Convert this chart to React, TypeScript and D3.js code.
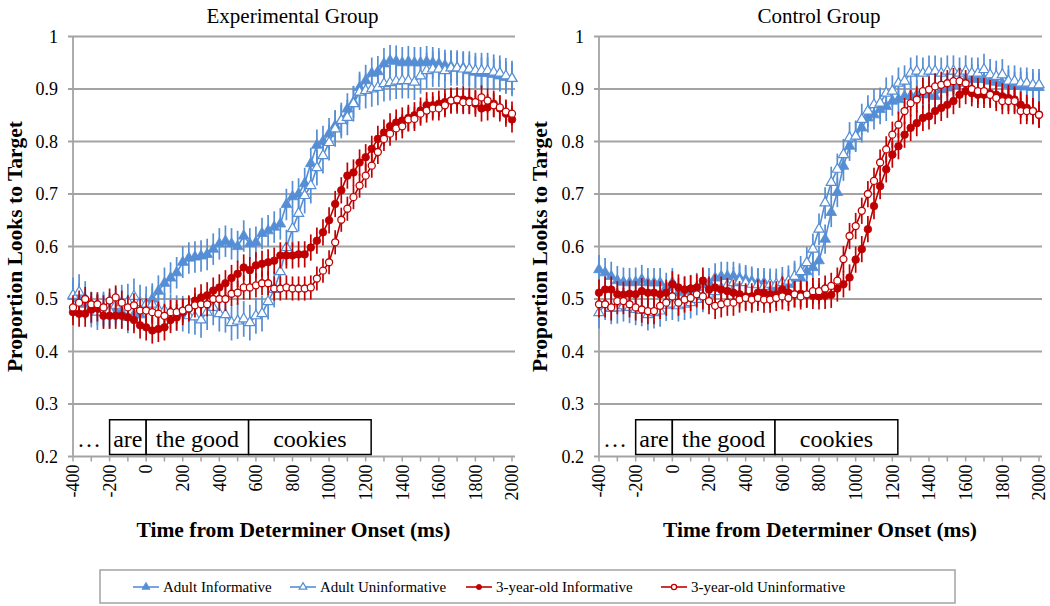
import React from 'react';
import * as d3 from 'd3';

// Sampling times (ms) of the eye-tracking bins
const TIMES: number[] = d3.range(73).map((i) => -400 + (i * 100) / 3);
const X_TICK_LABELS = [-400, -200, 0, 200, 400, 600, 800, 1000, 1200, 1400, 1600, 1800, 2000];
const X_MINOR_TICKS = d3.range(-400, 2001, 100);
const Y_TICKS = [0.2, 0.3, 0.4, 0.5, 0.6, 0.7, 0.8, 0.9, 1];

const SERIES_NAMES = ['Adult Informative', 'Adult Uninformative', '3-year-old Informative', '3-year-old Uninformative'];

// Experimental group
const EXP_ADULT_INF = [
  .505, .50, .49, .483, .48, .48, .478, .478, .475, .465,
  .47, .47, .48, .50, .515, .53, .54, .55, .57, .578,
  .58, .582, .585, .595, .605, .61, .605, .60, .62, .605,
  .608, .625, .63, .637, .643, .68, .695, .70, .72, .758,
  .793, .80, .815, .83, .84, .862, .875, .903, .916, .93,
  .933, .948, .954, .953, .95, .952, .95, .95, .952, .95,
  .948, .945, .943, .94, .94, .935, .932, .93, .93, .928,
  .925, .922, .92];
const EXP_ADULT_UNINF = [
  .507, .513, .50, .48, .475, .48, .478, .488, .493, .495,
  .505, .493, .49, .49, .48, .478, .475, .473, .472, .468,
  .466, .46, .475, .484, .472, .47, .455, .458, .462, .455,
  .468, .472, .495, .518, .552, .598, .634, .663, .697, .716,
  .75, .773, .798, .824, .84, .846, .872, .894, .897, .90,
  .903, .91, .912, .915, .916, .916, .913, .925, .935, .938,
  .938, .935, .94, .94, .938, .938, .935, .935, .935, .932,
  .93, .925, .92];
const EXP_CHILD_INF = [
  .475, .472, .472, .48, .482, .468, .468, .468, .468, .465,
  .46, .45, .446, .44, .443, .446, .46, .465, .475, .482,
  .497, .503, .507, .516, .522, .53, .54, .548, .56, .555,
  .564, .567, .57, .573, .583, .583, .583, .585, .585, .598,
  .611, .627, .65, .681, .707, .735, .741, .76, .77, .786,
  .805, .817, .829, .836, .84, .845, .85, .859, .869, .869,
  .872, .875, .878, .878, .88, .878, .872, .863, .865, .872,
  .863, .853, .842];
const EXP_CHILD_UNINF = [
  .484, .493, .50, .49, .49, .484, .497, .503, .493, .484,
  .488, .478, .478, .475, .472, .468, .475, .475, .478, .482,
  .488, .49, .49, .50, .50, .50, .51, .512, .522, .522,
  .526, .53, .53, .52, .52, .522, .52, .52, .52, .522,
  .539, .554, .57, .608, .651, .672, .694, .716, .735, .754,
  .78, .805, .815, .825, .829, .842, .843, .853, .859, .863,
  .863, .869, .878, .88, .875, .875, .875, .884, .878, .869,
  .865, .857, .853];

// Control group
const CTRL_ADULT_INF = [
  .556, .55, .543, .535, .532, .531, .532, .537, .531, .531,
  .531, .522, .531, .512, .515, .518, .522, .527, .531, .54,
  .543, .543, .543, .54, .537, .534, .531, .531, .524, .522,
  .522, .528, .54, .54, .552, .56, .573, .614, .665, .703,
  .753, .791, .81, .826, .845, .851, .861, .867, .877, .88,
  .886, .887, .889, .89, .889, .886, .899, .902, .906, .911,
  .918, .919, .919, .918, .915, .913, .911, .908, .905, .905,
  .904, .903, .903];
const CTRL_ADULT_UNINF = [
  .474, .49, .482, .483, .487, .484, .48, .478, .47, .474,
  .477, .488, .49, .487, .49, .493, .499, .505, .509, .514,
  .52, .526, .531, .534, .531, .528, .527, .524, .528, .528,
  .531, .534, .543, .552, .569, .595, .633, .683, .722, .747,
  .775, .807, .81, .842, .858, .87, .873, .892, .896, .911,
  .915, .93, .934, .93, .934, .934, .93, .934, .934, .93,
  .934, .93, .93, .937, .927, .924, .927, .915, .915, .911,
  .911, .908, .908];
const CTRL_CHILD_INF = [
  .512, .518, .518, .509, .508, .51, .509, .515, .512, .512,
  .509, .512, .528, .522, .518, .52, .522, .535, .518, .522,
  .518, .515, .512, .509, .505, .505, .512, .512, .509, .509,
  .518, .512, .509, .51, .508, .506, .505, .506, .508, .52,
  .528, .541, .575, .595, .633, .677, .715, .747, .775, .791,
  .813, .826, .835, .845, .848, .858, .864, .87, .877, .889,
  .896, .892, .889, .889, .892, .889, .886, .883, .88, .87,
  .864, .858, .851];
const CTRL_CHILD_UNINF = [
  .49, .49, .484, .496, .496, .49, .484, .48, .477, .477,
  .487, .493, .505, .493, .499, .502, .509, .505, .496, .487,
  .49, .493, .493, .499, .502, .499, .502, .499, .499, .502,
  .505, .502, .509, .505, .509, .515, .515, .52, .525, .535,
  .576, .62, .639, .668, .70, .725, .76, .785, .813, .832,
  .858, .873, .88, .896, .899, .905, .908, .911, .915, .915,
  .911, .90, .896, .896, .889, .883, .877, .877, .877, .858,
  .858, .858, .851];

// Standard-error half widths per series (Adult Inf, Adult Uninf, 3yo Inf, 3yo Uninf)
const EXP_ERR = [0.03, 0.034, 0.025, 0.023];
const CTRL_ERR = [0.028, 0.03, 0.025, 0.025];

// Sentence segments shown in the box
const WORDS = ['are', 'the good', 'cookies'];
const WORD_BOUNDS = [-200, 0, 560, 1230];
const WORD_BOX_TOP = 0.27;

const BLUE = '#558ED5';
const RED = '#C00000';
const GRID = '#A3A3A3';
const SERIF = 'Liberation Serif';

const STYLES = [
  { color: BLUE, shape: 'tri', filled: true },
  { color: BLUE, shape: 'tri', filled: false },
  { color: RED, shape: 'circle', filled: true },
  { color: RED, shape: 'circle', filled: false },
];

const PANELS = [
  { title: 'Experimental Group', x0: 73, x1: 512, series: [EXP_ADULT_INF, EXP_ADULT_UNINF, EXP_CHILD_INF, EXP_CHILD_UNINF], err: EXP_ERR, yTitleX: 14 },
  { title: 'Control Group', x0: 599, x1: 1039, series: [CTRL_ADULT_INF, CTRL_ADULT_UNINF, CTRL_CHILD_INF, CTRL_CHILD_UNINF], err: CTRL_ERR, yTitleX: 539 },
];

const Y_TOP = 36.5;
const Y_BOTTOM = 456.5;

function Marker({ x, y, style, small }: { x: number; y: number; style: any; small?: boolean }) {
  const fill = style.filled ? style.color : '#fff';
  if (style.shape === 'tri') {
    const size = small ? 28 : 50;
    const path = d3.symbol(d3.symbolTriangle, style.filled ? size : size * 0.9)();
    return <path d={path || ''} transform={`translate(${x},${y})`} fill={fill} stroke={style.color} strokeWidth={style.filled ? 0.8 : 1.2} />;
  }
  const r = small ? 2.6 : style.filled ? 3.8 : 3.5;
  return <circle cx={x} cy={y} r={r} fill={fill} stroke={style.color} strokeWidth={style.filled ? 0.8 : 1.3} />;
}

function Panel({ p }: { p: any }) {
  const x = d3.scaleLinear().domain([-400, 2000]).range([p.x0, p.x1]);
  const y = d3.scaleLinear().domain([0.2, 1]).range([Y_BOTTOM, Y_TOP]);
  const line = d3.line<number>().x((_, i) => x(TIMES[i])).y((v) => y(v));
  const cx = (p.x0 + p.x1) / 2;
  const font = { fontFamily: SERIF };
  return (
    <g style={font}>
      <text x={cx} y={23} textAnchor="middle" fontSize={21}>{p.title}</text>
      {Y_TICKS.filter((v) => v > 0.2).map((v) => (
        <line key={v} x1={p.x0 - 5} x2={p.x1 + 3} y1={y(v)} y2={y(v)} stroke={GRID} strokeWidth={1.8} />
      ))}
      <line x1={p.x0} x2={p.x0} y1={Y_TOP} y2={Y_BOTTOM} stroke={GRID} strokeWidth={1.8} />
      <line x1={p.x0 - 5} x2={p.x1 + 3} y1={Y_BOTTOM} y2={Y_BOTTOM} stroke={GRID} strokeWidth={1.8} />
      {X_MINOR_TICKS.map((t) => (
        <line key={t} x1={x(t)} x2={x(t)} y1={Y_BOTTOM} y2={Y_BOTTOM + 5} stroke={GRID} strokeWidth={1.5} />
      ))}
      {Y_TICKS.map((v) => (
        <text key={v} x={p.x0 - 15} y={y(v)} dy="0.35em" textAnchor="end" fontSize={18}>{v === 1 ? '1' : v.toFixed(1)}</text>
      ))}
      {X_TICK_LABELS.map((t) => (
        <text key={t} transform={`translate(${x(t)},${Y_BOTTOM + 8}) rotate(-90)`} dy="0.35em" textAnchor="end" fontSize={18}>{t}</text>
      ))}
      <text transform={`translate(${p.yTitleX},${(Y_TOP + Y_BOTTOM) / 2}) rotate(-90)`} dy="0.35em" textAnchor="middle" fontWeight="bold" fontSize={21.5}>Proportion Looks to Target</text>
      <text x={cx + 1} y={537} textAnchor="middle" fontWeight="bold" fontSize={21.5}>Time from Determiner Onset (ms)</text>

      {/* word box */}
      <text x={p.x0 + 4} y={447} fontSize={24}>…</text>
      {WORDS.map((w, i) => {
        const a = x(WORD_BOUNDS[i]);
        const b = x(WORD_BOUNDS[i + 1]);
        return (
          <g key={w}>
            <rect x={a} y={y(WORD_BOX_TOP)} width={b - a} height={y(0.2) - y(WORD_BOX_TOP) - 2} fill="#fff" stroke="#000" strokeWidth={1.5} />
            <text x={(a + b) / 2} y={447} textAnchor="middle" fontSize={24}>{w}</text>
          </g>
        );
      })}

      {p.series.map((vals: number[], si: number) => {
        const st = STYLES[si];
        const e = p.err[si];
        return (
          <g key={si}>
            <path d={line(vals) || ''} fill="none" stroke={st.color} strokeWidth={1.6} />
            {vals.map((v, i) => (
              <line key={i} x1={x(TIMES[i])} x2={x(TIMES[i])} y1={y(v - e)} y2={y(v + e)} stroke={st.color} strokeWidth={1.7} />
            ))}
            {vals.map((v, i) => (
              <Marker key={i} x={x(TIMES[i])} y={y(v)} style={st} />
            ))}
          </g>
        );
      })}
    </g>
  );
}

const LEGEND_X = [133, 290, 466, 661];

export default function App() {
  return (
    <svg width={1050} height={606} style={{ position: 'absolute', left: 0, top: 0, background: '#fff' }}>
      <rect width={1050} height={606} fill="#fff" />
      {PANELS.map((p) => (
        <Panel key={p.title} p={p} />
      ))}
      <rect x={100} y={570} width={855} height={33} fill="none" stroke={GRID} strokeWidth={1.5} />
      {SERIES_NAMES.map((n, i) => (
        <g key={n}>
          <line x1={LEGEND_X[i]} x2={LEGEND_X[i] + 26} y1={587} y2={587} stroke={STYLES[i].color} strokeWidth={1.6} />
          <Marker x={LEGEND_X[i] + 13} y={587} style={STYLES[i]} small />
          <text x={LEGEND_X[i] + 30} y={592} fontFamily={SERIF} fontSize={15}>{n}</text>
        </g>
      ))}
    </svg>
  );
}
